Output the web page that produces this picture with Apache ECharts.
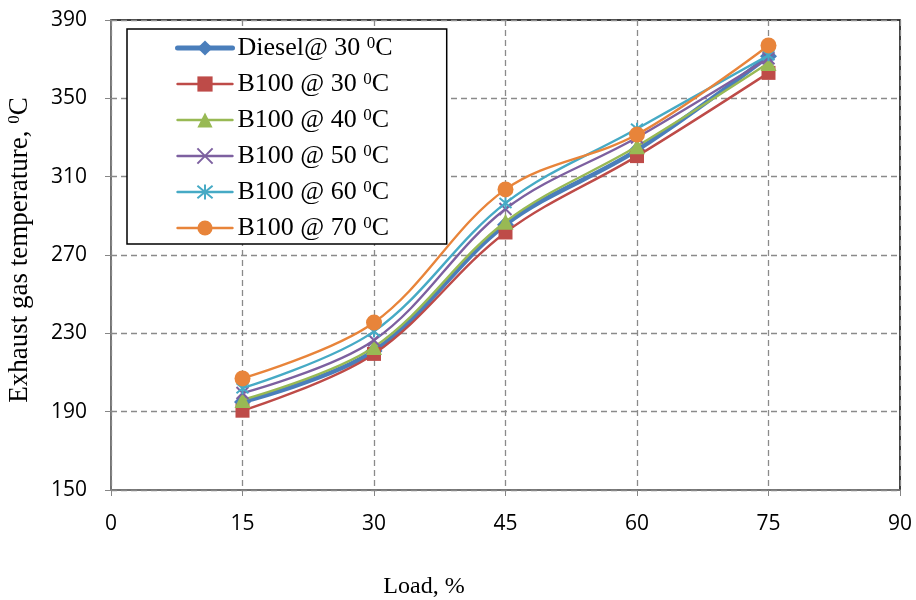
<!DOCTYPE html>
<html><head><meta charset="utf-8">
<script src="https://cdn.jsdelivr.net/npm/echarts@6/dist/echarts.min.js"></script>
<style>html,body{margin:0;padding:0;background:#fff}#c{width:916px;height:600px}</style>
</head><body><div id="c"></div>
<script>
const loads = [15, 30, 45, 60, 75];
const xTicks = [0, 15, 30, 45, 60, 75, 90];
const yTicks = [150, 190, 230, 270, 310, 350, 390];
const seriesNames = ['Diesel@ 30 0C', 'B100 @ 30 0C', 'B100 @ 40 0C', 'B100 @ 50 0C', 'B100 @ 60 0C', 'B100 @ 70 0C'];
const diesel30 = [195, 221, 285.5, 323.5, 371.5];
const b100_30 = [190.5, 219.5, 281.5, 320.5, 363];
const b100_40 = [196, 223, 287, 325.5, 368];
const b100_50 = [199.5, 226.5, 293.5, 330, 370.5];
const b100_60 = [202, 231, 296.5, 334.5, 372];
const b100_70 = [207, 235.5, 303.5, 331.5, 377];

const colors = ['#4A7EBB', '#BE4B48', '#98B954', '#7D60A0', '#46AAC5', '#E8843A'];
const symbols = ['diamond', 'rect', 'triangle',
  'path://M0,0L10,10M10,0L0,10',
  'path://M0,0L10,10M10,0L0,10M5,-1L5,11',
  'circle'];
const sizes = [17, 14, 16, 12, 12, 16];
const allData = [diesel30, b100_30, b100_40, b100_50, b100_60, b100_70];

const series = allData.map((vals, i) => {
  const open = symbols[i].startsWith('path');
  return {
    name: seriesNames[i],
    type: 'line',
    smooth: 0.35,
    data: loads.map((x, j) => [x, vals[j]]),
    symbol: symbols[i],
    symbolSize: sizes[i],
    lineStyle: { color: colors[i], width: i === 0 ? 4.5 : 2.4, cap: 'round' },
    itemStyle: open ? { color: colors[i], borderColor: colors[i], borderWidth: 2 } : { color: colors[i], borderWidth: 0 },
    z: 2 + i
  };
});

const chart = echarts.init(document.getElementById('c'), null, { renderer: 'canvas' });
chart.setOption({
  animation: false,
  backgroundColor: '#fff',
  grid: { left: 111, right: 16, top: 20, bottom: 110, containLabel: false, outerBoundsMode: 'none',
    show: true, borderColor: '#000', borderWidth: 1.5, backgroundColor: 'transparent' },
  legend: {
    orient: 'vertical', left: 127, top: 29,
    backgroundColor: '#fff', borderColor: '#000', borderWidth: 1.5,
    padding: [6, 54, 3, 48],
    itemWidth: 55, itemHeight: 19, itemGap: 10,
    data: seriesNames.map((n, i) => ({ name: n, lineStyle: { width: i === 0 ? 5 : 2.4, color: colors[i] } })),
    formatter: n => { const p = n.split(' 0C'); return '{n|' + p[0] + ' }{s|0}{n|C}'; },
    textStyle: {
      fontFamily: 'Liberation Serif', fontSize: 26, color: '#000',
      rich: {
        n: { fontFamily: 'Liberation Serif', fontSize: 26, color: '#000', lineHeight: 26 },
        s: { fontFamily: 'Liberation Serif', fontSize: 17, color: '#000', verticalAlign: 'top', lineHeight: 17, padding: [0, 0, 8, 0] }
      }
    }
  },
  xAxis: {
    type: 'value', min: 0, max: 90, interval: 15,
    name: 'Load, %', nameLocation: 'middle', nameGap: 85,
    nameTextStyle: { fontFamily: 'Liberation Serif', fontSize: 24, color: '#000', padding: [0, 163, 0, 0] },
    axisLine: { show: true, lineStyle: { color: '#868686', width: 1.5 } },
    axisTick: { show: true, length: 6, inside: false, lineStyle: { color: '#868686' } },
    axisLabel: { margin: 24, fontFamily: 'Open Sans', fontSize: 21, color: '#000',
      formatter: v => xTicks.includes(v) ? String(v) : '' },
    splitLine: { show: true, lineStyle: { color: '#8a8a8a', type: [6, 4], width: 1.3 } }
  },
  yAxis: {
    type: 'value', min: 150, max: 390, interval: 40,
    name: '{n|Exhaust gas temperature, }{s|0}{n|C}', nameLocation: 'middle', nameGap: 78, nameRotate: 90,
    nameTextStyle: {
      fontFamily: 'Liberation Serif', fontSize: 27, color: '#000', padding: [0, 0, 0, 10],
      rich: {
        n: { fontFamily: 'Liberation Serif', fontSize: 27, color: '#000', lineHeight: 27 },
        s: { fontFamily: 'Liberation Serif', fontSize: 17, color: '#000', verticalAlign: 'top', lineHeight: 17, padding: [0, 0, 8, 0] }
      }
    },
    axisLine: { show: true, lineStyle: { color: '#868686', width: 1.5 } },
    axisTick: { show: true, length: 6, inside: false, lineStyle: { color: '#868686' } },
    axisLabel: { margin: 24, fontFamily: 'Open Sans', fontSize: 21, color: '#000',
      formatter: v => yTicks.includes(v) ? String(v) : '' },
    splitLine: { show: true, lineStyle: { color: '#8a8a8a', type: [6, 4], width: 1.3 } }
  },
  series: series
});
</script></body></html>
